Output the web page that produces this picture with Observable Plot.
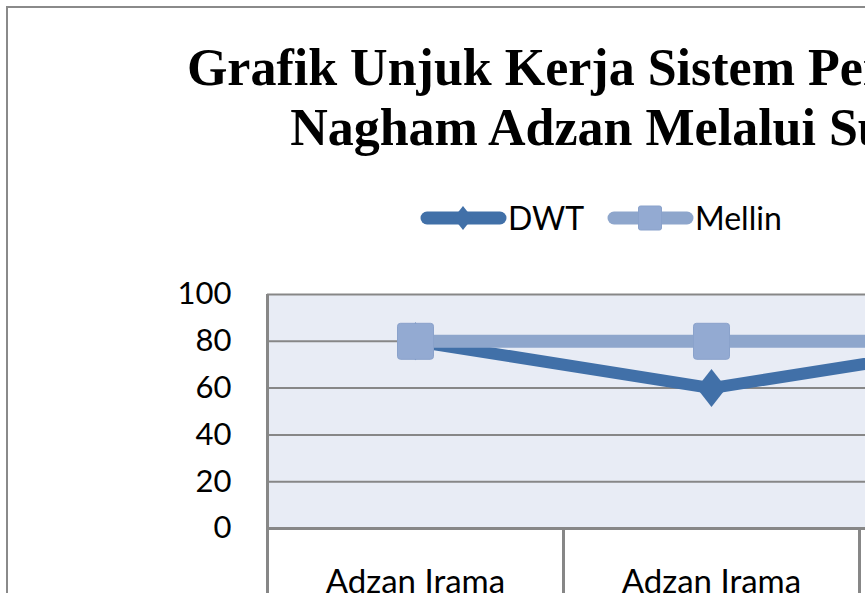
<!DOCTYPE html>
<html>
<head>
<meta charset="utf-8">
<script src="https://cdn.jsdelivr.net/npm/d3@7"></script>
<script src="https://cdn.jsdelivr.net/npm/@observablehq/plot@0.6"></script>
<style>
  html, body { margin: 0; padding: 0; background: #fff; }
  body { width: 865px; height: 593px; overflow: hidden; position: relative; }
  #frame { position: absolute; left: 6px; top: 6px; width: 1300px; height: 900px; border: 2px solid #8a8a8a; }
  #chart { position: absolute; left: 0; top: 0; width: 1252px; }
  #title { height: 160px; box-sizing: border-box; padding-top: 38px; font: bold 52px "Liberation Serif", serif; line-height: 60px; text-align: center; color: #000; white-space: nowrap; }
  #legend { height: 90px; position: relative; font-family: Lato, sans-serif; font-size: 32px; color: #000; }
  #legend .sw { position: absolute; top: 43px; }
  #legend .lt { position: absolute; top: 43px; line-height: 30px; height: 30px; }
  #plot { width: 1260px; }
  #plot svg { display: block; max-width: none !important; }
</style>
</head>
<body>
<div id="frame"></div>
<div id="chart">
  <div id="title"></div>
  <div id="legend"></div>
  <div id="plot"></div>
</div>
<script>
// ---- data ----
const titleLines = ["Grafik Unjuk Kerja Sistem Pengenalan", "Nagham Adzan Melalui Suara"];
const categories = ["Adzan Irama\nBayati", "Adzan Irama\nShoba", "Adzan Irama\nHijaz"];
const seriesNames = ["DWT", "Mellin"];
const dwt = [80, 60, 80];
const mellin = [80, 80, 80];
const yTicks = [0, 20, 40, 60, 80, 100];

// ---- styles ----
const colors = {DWT: "#4170A8", Mellin: "#8EA6CC"};
const markerFill = {DWT: "#4170A8", Mellin: "#93AAD2"};
const gridColor = "#878787";

const rows = categories.map((c, i) => ({category: c, DWT: dwt[i], Mellin: mellin[i]}));

// title
document.getElementById("title").innerHTML = titleLines.join("<br>");

// custom symbols
const diamondSym = {
  draw(ctx, size) {
    const r = Math.sqrt(size / Math.PI);
    const w = r * 0.78;
    ctx.moveTo(0, -r); ctx.lineTo(w, 0); ctx.lineTo(0, r); ctx.lineTo(-w, 0); ctx.closePath();
  }
};
const roundSquare = {
  draw(ctx, size) {
    const s = Math.sqrt(size / Math.PI);
    const c = 3;
    ctx.moveTo(-s + c, -s);
    ctx.lineTo(s - c, -s); ctx.arcTo(s, -s, s, -s + c, c);
    ctx.lineTo(s, s - c); ctx.arcTo(s, s, s - c, s, c);
    ctx.lineTo(-s + c, s); ctx.arcTo(-s, s, -s, s - c, c);
    ctx.lineTo(-s, -s + c); ctx.arcTo(-s, -s, -s + c, -s, c);
    ctx.closePath();
  }
};

// legend
const legend = document.getElementById("legend");
const legendPos = {DWT: [420, 508], Mellin: [607, 695]};
seriesNames.forEach(name => {
  const [sx, tx] = legendPos[name];
  const marker = name === "DWT"
    ? `<path d="M43,3 L52.5,15 L43,27 L33.5,15 Z" fill="${markerFill.DWT}"/>`
    : `<rect x="31.5" y="3" width="23" height="24" rx="2" fill="${markerFill.Mellin}" stroke="#8AA2CB" stroke-width="1"/>`;
  legend.insertAdjacentHTML("beforeend",
    `<svg class="sw" style="left:${sx}px" width="88" height="30"><line x1="7" y1="15" x2="80" y2="15" stroke="${colors[name]}" stroke-width="13" stroke-linecap="round"/>${marker}</svg>` +
    `<div class="lt" style="left:${tx}px">${name}</div>`);
});

// plot
const W = 1260, H = 400, ML = 267, MR = 105, MT = 44, MB = 122;
const bw = (W - ML - MR) / categories.length;

const chart = Plot.plot({
  width: W, height: H,
  marginLeft: ML, marginRight: MR, marginTop: MT, marginBottom: MB,
  x: {type: "band", domain: categories, padding: 0, axis: null},
  y: {domain: [0, 100], axis: null},
  style: {fontFamily: "Lato, sans-serif", fontSize: "31px", color: "#000", background: "transparent", maxWidth: "none"},
  marks: [
    Plot.frame({fill: "#E8ECF5", stroke: null}),
    Plot.ruleY(yTicks, {stroke: gridColor, strokeWidth: 2}),
    Plot.ruleX([categories[0]], {dx: -bw / 2, y1: 0, y2: 100, stroke: gridColor, strokeWidth: 3}),
    Plot.ruleX(categories, {dx: -bw / 2, y1: 0, y2: -40, stroke: gridColor, strokeWidth: 3}),
    Plot.ruleX([categories[categories.length - 1]], {dx: bw / 2, y1: 0, y2: -40, stroke: gridColor, strokeWidth: 3}),
    Plot.ruleY([0], {stroke: gridColor, strokeWidth: 3}),
    Plot.line(rows, {x: "category", y: "DWT", stroke: colors.DWT, strokeWidth: 12, strokeLinejoin: "round"}),
    Plot.dot(rows, {x: "category", y: "DWT", symbol: diamondSym, r: 19, fill: markerFill.DWT, stroke: null}),
    Plot.line(rows, {x: "category", y: "Mellin", stroke: colors.Mellin, strokeWidth: 13}),
    Plot.dot(rows, {x: "category", y: "Mellin", symbol: roundSquare, r: 18, fill: markerFill.Mellin, stroke: "#8AA2CB", strokeWidth: 1}),
    Plot.text(yTicks, {y: d => d, frameAnchor: "left", dx: -36, textAnchor: "end", text: d => String(d), fontSize: 31, fill: "#000"}),
    Plot.text(categories, {x: d => d, y: 0, dy: 38, lineAnchor: "top", text: d => d, fontSize: 33, lineHeight: 1.15, fill: "#000"})
  ]
});
document.getElementById("plot").appendChild(chart);
</script>
</body>
</html>
